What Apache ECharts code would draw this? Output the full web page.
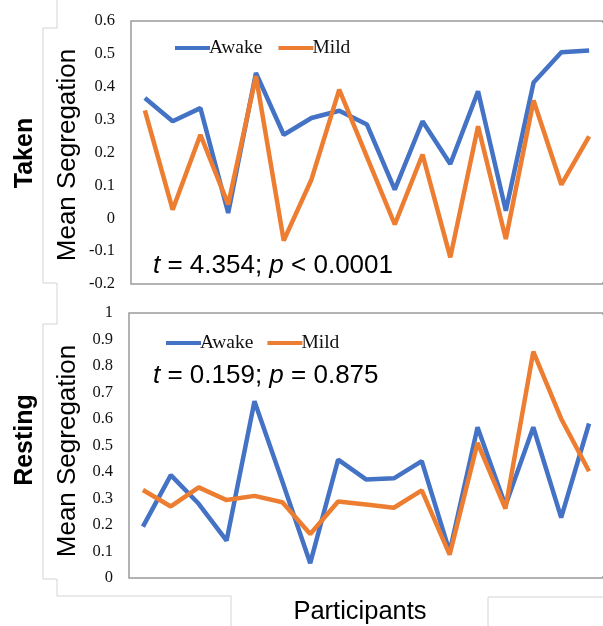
<!DOCTYPE html>
<html>
<head>
<meta charset="utf-8">
<script src="https://cdn.jsdelivr.net/npm/echarts@6/dist/echarts.min.js"></script>
<style>html,body{margin:0;padding:0;background:#fff;}#c{width:603px;height:626px;}</style>
</head>
<body>
<div id="c"></div>
<script>
var participants = ['1','2','3','4','5','6','7','8','9','10','11','12','13','14','15','16','17'];
var seriesNames = ['Awake', 'Mild'];
var awakeTaken = [0.366, 0.295, 0.335, 0.016, 0.442, 0.254, 0.305, 0.327, 0.285, 0.087, 0.295, 0.165, 0.386, 0.023, 0.413, 0.505, 0.510];
var mildTaken  = [0.328, 0.026, 0.254, 0.042, 0.432, -0.068, 0.118, 0.391, 0.186, -0.019, 0.194, -0.119, 0.280, -0.063, 0.358, 0.102, 0.249];
var awakeRest  = [0.194, 0.388, 0.280, 0.141, 0.667, 0.364, 0.056, 0.447, 0.372, 0.376, 0.441, 0.098, 0.569, 0.274, 0.569, 0.228, 0.583];
var mildRest   = [0.332, 0.270, 0.342, 0.294, 0.310, 0.286, 0.166, 0.289, 0.277, 0.265, 0.331, 0.088, 0.510, 0.262, 0.854, 0.601, 0.403];
var takenRange = {min: -0.2, max: 0.6, interval: 0.1};
var restRange  = {min: 0, max: 1, interval: 0.1};
var panelTitles = ['Taken', 'Resting'];
var yTitle = 'Mean Segregation';
var xTitle = 'Participants';

var BLUE = '#4472C4', ORANGE = '#ED7D31';
var chart = echarts.init(document.getElementById('c'), null, {renderer: 'canvas'});

function yAxis(idx, r) {
  return {
    gridIndex: idx, type: 'value', min: r.min, max: r.max, interval: r.interval,
    axisLine: {show: false}, axisTick: {show: false}, splitLine: {show: false},
    axisLabel: {color: '#111', fontFamily: 'Liberation Serif', fontSize: 16.5, margin: 16,
      formatter: function (v) { return String(Math.round(v * 10) / 10); }}
  };
}
function xAxis(idx) {
  return {
    gridIndex: idx, type: 'category', data: participants, boundaryGap: true,
    axisLine: {show: false}, axisTick: {show: false}, axisLabel: {show: false}, splitLine: {show: false}
  };
}
function line(name, data, idx, color) {
  return {
    name: name, type: 'line', data: data, xAxisIndex: idx, yAxisIndex: idx,
    symbol: 'none', smooth: false, lineStyle: {color: color, width: 4.5}, itemStyle: {color: color}
  };
}
var legendText = {fontFamily: 'Liberation Serif', fontSize: 19.5, color: '#111', padding: [0, 0, 0, -6]};

var gray = '#d4d4d4';
function poly(pts) {
  return {type: 'polyline', shape: {points: pts}, style: {stroke: gray, lineWidth: 1, fill: null}, silent: true};
}
function vtext(txt, x, y, size, weight) {
  return {type: 'text', x: x, y: y, rotation: Math.PI / 2,
    style: {text: txt, fontFamily: 'Liberation Sans', fontSize: size, fontWeight: weight, fill: '#000',
      align: 'center', verticalAlign: 'middle'}};
}
function stat(txt, x, y) {
  return {type: 'text', x: x, y: y,
    style: {text: txt, fontFamily: 'Liberation Sans', fontSize: 26, fill: '#000', verticalAlign: 'middle',
      rich: {i: {fontStyle: 'italic', fontFamily: 'Liberation Sans', fontSize: 26, fill: '#000'}}}};
}

chart.setOption({
  animation: false,
  backgroundColor: '#fff',
  grid: [
    {left: 131, right: -4, top: 21, height: 263, show: true, borderColor: '#9a9a9a', borderWidth: 1.5, backgroundColor: 'transparent'},
    {left: 129, right: -5, top: 313, height: 265, show: true, borderColor: '#9a9a9a', borderWidth: 1.5, backgroundColor: 'transparent'}
  ],
  xAxis: [xAxis(0), xAxis(1)],
  yAxis: [yAxis(0, takenRange), yAxis(1, restRange)],
  legend: [
    {data: seriesNames, left: 170, top: 33, icon: 'rect', itemWidth: 35, itemHeight: 4, itemGap: 16, textStyle: legendText},
    {data: seriesNames, left: 161, top: 328, icon: 'rect', itemWidth: 35, itemHeight: 4, itemGap: 14, textStyle: legendText}
  ],
  series: [
    line(seriesNames[0], awakeTaken, 0, BLUE),
    line(seriesNames[1], mildTaken, 0, ORANGE),
    line(seriesNames[0], awakeRest, 1, BLUE),
    line(seriesNames[1], mildRest, 1, ORANGE)
  ],
  graphic: [
    {type: 'rect', shape: {x: 601, y: 23, width: 2, height: 259}, style: {fill: '#fff'}, z: 100, silent: true},
    {type: 'rect', shape: {x: 601, y: 315, width: 2, height: 261}, style: {fill: '#fff'}, z: 100, silent: true},
    poly([[57, 0], [57, 28], [43, 28], [43, 283], [57, 283], [57, 324], [43, 324], [43, 579], [57, 579], [57, 596], [231, 596], [231, 626]]),
    poly([[603, 597], [488, 597], [488, 626]]),
    vtext(panelTitles[0], 25, 153, 25, 'bold'),
    vtext(panelTitles[1], 25, 440, 25, 'bold'),
    vtext(yTitle, 68, 155, 26, 'normal'),
    vtext(yTitle, 68, 451, 26, 'normal'),
    stat('{i|t} = 4.354; {i|p} < 0.0001', 153, 266),
    stat('{i|t} = 0.159; {i|p} = 0.875', 153, 376),
    {type: 'text', x: 360, y: 612, style: {text: xTitle, fontFamily: 'Liberation Sans', fontSize: 25.5, fill: '#000', align: 'center', verticalAlign: 'middle'}}
  ]
});
</script>
</body>
</html>
